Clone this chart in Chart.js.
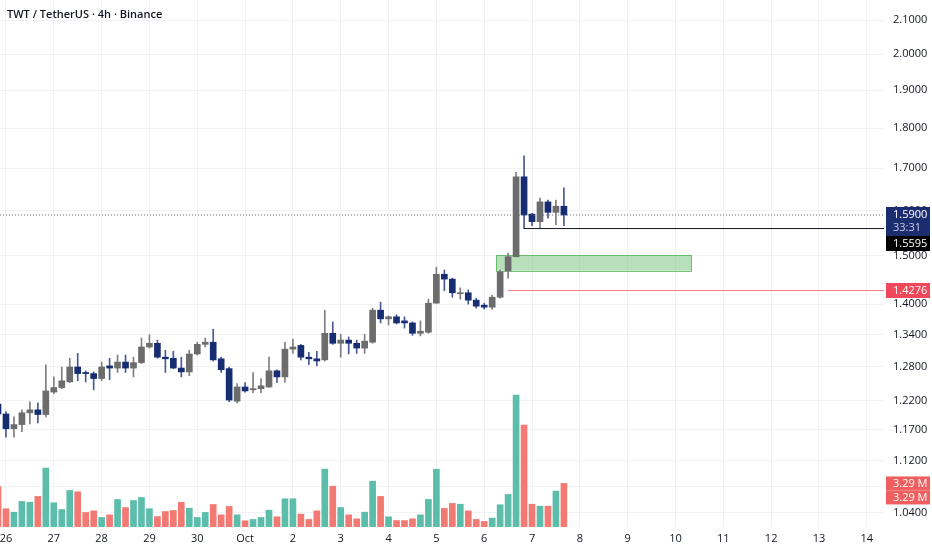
<!DOCTYPE html>
<html>
<head>
<meta charset="utf-8">
<title>TWT / TetherUS 4h</title>
<script src="https://cdn.jsdelivr.net/npm/chart.js@4.4.1/dist/chart.umd.min.js"></script>
<style>
  html, body { margin: 0; padding: 0; background: #fff; }
  #wrap { position: relative; width: 932px; height: 550px; }
  #title {
    position: absolute; left: 7px; top: 6px;
    font: 600 11px "Open Sans", sans-serif; color: #131722;
  }
</style>
</head>
<body>
<div id="wrap">
  <canvas id="chart" width="932" height="550"></canvas>
  <div id="title">TWT / TetherUS · 4h · Binance</div>
</div>
<script>
// 4h candles, index 0 = 26 Sep 00:00 (6 candles per day)
const firstIndex = -1;

const opens = [1.214, 1.197, 1.172, 1.179, 1.199, 1.204, 1.196, 1.235, 1.243, 1.253,
  1.280, 1.270, 1.268, 1.259, 1.282, 1.278, 1.289, 1.278, 1.288, 1.317,
  1.324, 1.298, 1.296, 1.278, 1.271, 1.304, 1.322, 1.326, 1.295, 1.277,
  1.219, 1.244, 1.239, 1.241, 1.244, 1.273, 1.262, 1.313, 1.320, 1.298,
  1.295, 1.293, 1.343, 1.324, 1.330, 1.324, 1.315, 1.326, 1.388, 1.371,
  1.375, 1.367, 1.363, 1.343, 1.345, 1.402, 1.461, 1.451, 1.421, 1.423,
  1.408, 1.398, 1.394, 1.414, 1.468, 1.498, 1.679, 1.592, 1.575, 1.620,
  1.596, 1.610];
const highs = [1.220, 1.201, 1.192, 1.204, 1.218, 1.216, 1.284, 1.262, 1.280, 1.296,
  1.305, 1.273, 1.271, 1.289, 1.296, 1.302, 1.302, 1.298, 1.334, 1.340,
  1.330, 1.311, 1.309, 1.298, 1.311, 1.326, 1.334, 1.351, 1.298, 1.280,
  1.250, 1.252, 1.270, 1.259, 1.298, 1.275, 1.326, 1.332, 1.322, 1.307,
  1.309, 1.388, 1.365, 1.341, 1.336, 1.330, 1.341, 1.392, 1.404, 1.377,
  1.379, 1.375, 1.365, 1.367, 1.410, 1.476, 1.470, 1.453, 1.433, 1.429,
  1.412, 1.402, 1.418, 1.470, 1.506, 1.690, 1.730, 1.594, 1.629, 1.624,
  1.624, 1.653];
const lows = [1.193, 1.158, 1.158, 1.167, 1.180, 1.182, 1.192, 1.232, 1.241, 1.252,
  1.255, 1.253, 1.239, 1.255, 1.257, 1.270, 1.270, 1.262, 1.286, 1.315,
  1.296, 1.270, 1.277, 1.262, 1.264, 1.302, 1.317, 1.291, 1.270, 1.218,
  1.216, 1.235, 1.234, 1.234, 1.243, 1.252, 1.252, 1.305, 1.293, 1.284,
  1.282, 1.291, 1.322, 1.298, 1.304, 1.305, 1.305, 1.324, 1.363, 1.359,
  1.361, 1.353, 1.339, 1.338, 1.343, 1.402, 1.427, 1.414, 1.410, 1.400,
  1.392, 1.390, 1.390, 1.412, 1.453, 1.498, 1.5595, 1.566, 1.561, 1.583,
  1.568, 1.566];
const closes = [1.197, 1.172, 1.179, 1.199, 1.204, 1.196, 1.237, 1.243, 1.255, 1.280,
  1.268, 1.268, 1.259, 1.280, 1.278, 1.289, 1.278, 1.288, 1.317, 1.324,
  1.298, 1.295, 1.278, 1.271, 1.304, 1.322, 1.326, 1.293, 1.275, 1.221,
  1.244, 1.237, 1.241, 1.246, 1.273, 1.262, 1.313, 1.317, 1.298, 1.295,
  1.291, 1.343, 1.324, 1.330, 1.324, 1.315, 1.328, 1.388, 1.371, 1.375,
  1.363, 1.363, 1.343, 1.347, 1.402, 1.461, 1.451, 1.423, 1.423, 1.408,
  1.396, 1.394, 1.414, 1.466, 1.498, 1.679, 1.590, 1.575, 1.620, 1.596,
  1.610, 1.590];
// volume in millions
const volumes = [3.06, 1.38, 1.12, 1.93, 1.87, 2.31, 4.45, 1.83, 1.32, 2.76,
  2.66, 1.10, 1.22, 0.72, 0.92, 2.08, 1.47, 2.00, 2.23, 1.38,
  0.79, 1.17, 1.25, 1.87, 1.42, 0.72, 1.10, 1.70, 0.92, 1.55,
  0.92, 0.47, 0.57, 0.72, 1.27, 0.77, 2.13, 2.13, 0.97, 0.57,
  1.22, 4.37, 3.08, 1.47, 0.92, 0.62, 1.12, 3.46, 2.31, 0.77,
  0.49, 0.49, 0.62, 0.92, 2.08, 4.37, 1.40, 1.78, 1.72, 1.22,
  0.57, 0.42, 0.67, 1.68, 2.46, 9.96, 7.70, 1.72, 1.57, 1.57,
  2.71, 3.29];

const dayLabels = ['26', '27', '28', '29', '30', 'Oct', '2', '3', '4', '5',
  '6', '7', '8', '9', '10', '11', '12', '13', '14'];
const priceTicks = [1.04, 1.08, 1.12, 1.17, 1.22, 1.28, 1.34, 1.40, 1.50, 1.60,
  1.70, 1.80, 1.90, 2.00, 2.10];

// levels drawn on the chart
const lastPrice = 1.5900;
const countdown = '33:31';
const supportLevel = 1.5595;   // low of the big red candle
const redLevel = 1.4276;
const zone = { from: 61.5, to: 86, top: 1.5015, bottom: 1.4685 };
const lastVolume = 3.29;

const candlesPerDay = 6;
const xMin = -0.75, xMax = 110.16;

const font = { family: '"Open Sans", sans-serif', size: 11 };
const textColor = '#131722';
const gridColor = '#f0f2f6';
const upColor = '#6c6c6c', downColor = '#172d72';
const upWick = '#7e7e7e', downWick = '#4a5894';
const volUp = '#5cbdab', volDown = '#f27a72';

const idx = opens.map((_, i) => firstIndex + i);
const isUp = idx.map((_, i) => closes[i] >= opens[i]);

const bodies = idx.map((x, i) => ({ x, y: [opens[i], closes[i]] }));
const wicks = idx.map((x, i) => ({ x, y: [lows[i], highs[i]] }));
const vols = idx.map((x, i) => ({ x, y: volumes[i] }));

const overlay = {
  id: 'overlay',
  beforeDatasetsDraw(chart) {
    const { ctx, scales: { x, y } } = chart;
    const x0 = x.getPixelForValue(zone.from), x1 = x.getPixelForValue(zone.to);
    const y0 = y.getPixelForValue(zone.top), y1 = y.getPixelForValue(zone.bottom);
    ctx.save();
    ctx.fillStyle = 'rgba(76, 175, 80, 0.40)';
    ctx.fillRect(x0, y0, x1 - x0, y1 - y0);
    ctx.strokeStyle = 'rgba(76, 175, 80, 0.75)';
    ctx.lineWidth = 1;
    ctx.strokeRect(Math.round(x0) + 0.5, Math.round(y0) + 0.5, Math.round(x1 - x0), Math.round(y1 - y0));
    ctx.restore();
  },
  afterDraw(chart) {
    const { ctx, chartArea, scales: { y, vol } } = chart;
    const bx = chartArea.right + 2, bw = 44, tx = chartArea.right + 9;
    ctx.save();
    ctx.font = '11px "Open Sans", sans-serif';
    ctx.textBaseline = 'middle';
    ctx.textAlign = 'left';

    const box = (top, h, fill) => { ctx.fillStyle = fill; ctx.fillRect(bx, top, bw, h); };

    // last price + countdown
    const py = y.getPixelForValue(lastPrice);
    const navyTop = py - 8, navyH = 29;
    box(navyTop, navyH, '#1b2d70');
    ctx.fillStyle = '#ffffff';
    ctx.fillText(lastPrice.toFixed(4), tx, py);
    ctx.fillStyle = '#c9cfe6';
    ctx.fillText(countdown, tx, py + 13);

    // support line label, pushed below the last price box
    const sy = Math.max(y.getPixelForValue(supportLevel) - 7.5, navyTop + navyH);
    box(sy, 15, '#000000');
    ctx.fillStyle = '#ffffff';
    ctx.fillText(supportLevel.toFixed(4), tx, sy + 7.5);

    // red level
    const ry = y.getPixelForValue(redLevel);
    box(ry - 7.5, 15, '#f0485a');
    ctx.fillStyle = '#ffffff';
    ctx.fillText(redLevel.toFixed(4), tx, ry);

    // volume labels
    const vy = vol.getPixelForValue(lastVolume);
    box(vy - 7, 14, '#ef5f5f');
    box(vy + 7, 14, '#ef5f5f');
    ctx.fillStyle = '#ffffff';
    ctx.fillText(lastVolume.toFixed(2) + ' M', tx, vy);
    ctx.fillText(lastVolume.toFixed(2) + ' M', tx, vy + 14);
    ctx.restore();
  }
};

const hLine = (from, to, level, color, dash) => ({
  type: 'line',
  data: [{ x: from, y: level }, { x: to, y: level }],
  borderColor: color,
  borderWidth: 1,
  borderDash: dash,
  pointRadius: 0,
  yAxisID: 'y',
  order: 0
});

new Chart(document.getElementById('chart'), {
  type: 'bar',
  data: {
    datasets: [
      {
        data: vols, yAxisID: 'vol', grouped: false, barThickness: 6, order: 9,
        backgroundColor: isUp.map(u => u ? volUp : volDown)
      },
      {
        data: wicks, yAxisID: 'y', grouped: false, barThickness: 1, order: 3,
        backgroundColor: isUp.map(u => u ? upWick : downWick)
      },
      {
        data: bodies, yAxisID: 'y', grouped: false, barThickness: 6, minBarLength: 1, order: 2,
        backgroundColor: isUp.map(u => u ? upColor : downColor)
      },
      hLine(xMin, xMax, lastPrice, '#6a6d78', [1, 2]),
      hLine(65, xMax, supportLevel, '#131722', []),
      hLine(63, xMax, redLevel, '#f47c86', [])
    ]
  },
  options: {
    responsive: false,
    animation: false,
    layout: { padding: 0 },
    plugins: { legend: { display: false }, tooltip: { enabled: false } },
    scales: {
      x: {
        type: 'linear',
        offset: false,
        min: xMin,
        max: xMax,
        afterBuildTicks: s => { s.ticks = dayLabels.map((_, k) => ({ value: k * candlesPerDay })); },
        afterFit: s => { s.height = 23; s.paddingLeft = 0; s.paddingRight = 0; },
        ticks: {
          callback: (v, i) => dayLabels[i],
          autoSkip: false, maxRotation: 0, padding: 5,
          color: textColor, font
        },
        grid: { color: gridColor, drawTicks: false, offset: false },
        border: { display: false }
      },
      y: {
        type: 'logarithmic',
        position: 'right',
        min: 1.0187,
        max: 2.1608,
        afterBuildTicks: s => { s.ticks = priceTicks.map(v => ({ value: v })); },
        afterFit: s => { s.width = 48; s.paddingTop = 0; s.paddingBottom = 0; },
        ticks: {
          callback: v => Number(v).toFixed(4),
          autoSkip: false, padding: 9,
          color: textColor, font
        },
        grid: { color: gridColor, drawTicks: false },
        border: { display: false }
      },
      vol: {
        type: 'linear',
        display: false,
        min: 0,
        max: 39.8
      }
    }
  },
  plugins: [overlay]
});
</script>
</body>
</html>
